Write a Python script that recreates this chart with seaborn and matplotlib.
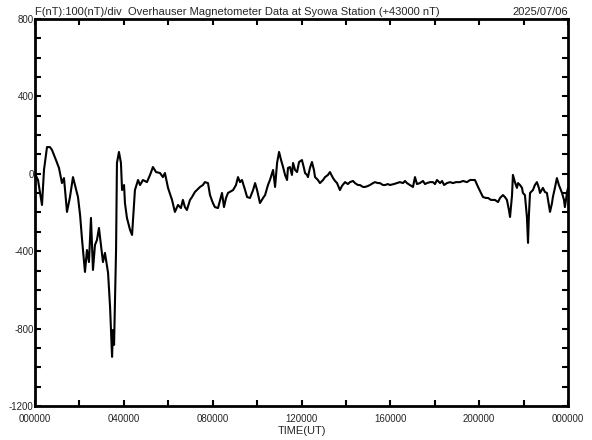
import matplotlib
matplotlib.use("Agg")
import matplotlib.pyplot as plt
from matplotlib.ticker import MultipleLocator, FixedLocator
import seaborn as sns
import pandas as pd

# Time in hours UT, field deviation in nT (relative to 43000 nT)
hours = [0, 0.135, 0.315, 0.405, 0.54, 0.675, 0.765, 0.945, 1.08, 1.215, 1.305, 1.44, 1.575, 1.71, 1.80,
         1.935, 2.03, 2.12, 2.25, 2.34, 2.43, 2.52, 2.61, 2.70, 2.79, 2.88, 2.97, 3.06, 3.15, 3.29, 3.38,
         3.47, 3.51, 3.56, 3.65, 3.69, 3.78, 3.87, 3.92, 4.01, 4.05, 4.14, 4.28, 4.37, 4.50, 4.64, 4.73,
         4.86, 5.04, 5.18, 5.31, 5.45, 5.63, 5.76, 5.85, 5.99, 6.17, 6.30, 6.44, 6.57, 6.66, 6.75, 6.84,
         6.98, 7.07, 7.20, 7.29, 7.43, 7.56, 7.65, 7.79, 7.88, 8.01, 8.10, 8.24, 8.42, 8.51, 8.60, 8.69,
         8.92, 9.05, 9.14, 9.23, 9.32, 9.46, 9.55, 9.68, 9.82, 9.91, 10.0, 10.13, 10.27, 10.36, 10.49,
         10.58, 10.72, 10.81, 10.90, 10.99, 11.08, 11.17, 11.26, 11.35, 11.39, 11.48, 11.57, 11.62, 11.71,
         11.80, 11.89, 12.02, 12.11, 12.16, 12.25, 12.29, 12.38, 12.47, 12.56, 12.61, 12.74, 12.83, 12.97,
         13.06, 13.19, 13.28, 13.37, 13.42, 13.51, 13.60, 13.73, 13.82, 13.96, 14.09, 14.18, 14.32, 14.41,
         14.54, 14.63, 14.77, 14.86, 14.99, 15.08, 15.22, 15.31, 15.44, 15.53, 15.67, 15.76, 15.89, 15.98,
         16.16, 16.30, 16.43, 16.57, 16.66, 16.75, 16.88, 17.02, 17.11, 17.20, 17.33, 17.47, 17.56, 17.65,
         17.79, 17.92, 18.01, 18.10, 18.24, 18.33, 18.42, 18.55, 18.69, 18.82, 18.96, 19.14, 19.27, 19.45,
         19.59, 19.68, 19.81, 19.95, 20.08, 20.17, 20.31, 20.40, 20.53, 20.62, 20.71, 20.85, 20.94, 21.07,
         21.16, 21.25, 21.34, 21.39, 21.48, 21.52, 21.61, 21.70, 21.75, 21.84, 21.93, 21.97, 22.06, 22.15,
         22.20, 22.24, 22.29, 22.42, 22.51, 22.60, 22.69, 22.74, 22.87, 22.96, 23.05, 23.14, 23.19, 23.28,
         23.32, 23.41, 23.50, 23.59, 23.73, 23.82, 23.86, 23.91, 23.95, 24.0]
field_nT = [0, -32, -161, 20, 138, 138, 123, 71, 30, -48, -22, -197, -120, -17, -58,
            -120, -213, -342, -507, -394, -456, -228, -497, -368, -342, -280, -368, -456, -409, -512, -688,
            -946, -807, -884, -394, 56, 113, 56, -84, -58, -151, -228, -290, -316, -84, -32, -58,
            -32, -43, -6, 35, 9, 4, -17, 4, -73, -135, -197, -161, -177, -135, -172, -187,
            -135, -120, -94, -84, -68, -58, -43, -48, -110, -151, -172, -177, -99, -172, -125, -99,
            -84, -58, -17, -43, -32, -84, -120, -125, -84, -48, -84, -151, -125, -110, -58,
            -32, 20, -68, 56, 113, 71, 35, -6, -32, 30, 35, -6, 56, 20,
            9, 61, 71, 30, 4, -6, -17, 30, 61, 20, -17, -32, -48, -32,
            -17, -6, 9, -11, -22, -37, -48, -84, -63, -43, -53, -43, -37, -48,
            -58, -58, -68, -68, -63, -58, -48, -43, -48, -48, -58, -58, -53, -58,
            -53, -48, -43, -48, -37, -48, -58, -68, -17, -53, -48, -37, -53, -48,
            -43, -43, -53, -32, -48, -37, -58, -48, -43, -48, -43, -43, -37, -43,
            -32, -32, -32, -68, -99, -120, -125, -125, -135, -135, -135, -146, -125, -110,
            -120, -135, -187, -223, -110, -6, -43, -73, -48, -58, -73, -99, -110, -223,
            -357, -213, -99, -84, -58, -43, -73, -99, -73, -94, -99, -161, -197, -151,
            -120, -73, -22, -58, -99, -135, -172, -135, -99, -73]

x_tick_hours = [0, 4, 8, 12, 16, 20, 24]
x_tick_labels = ["000000", "040000", "080000", "120000", "160000", "200000", "000000"]
y_ticks = [800, 400, 0, -400, -800, -1200]
y_tick_labels = ["800", "400", "0", "-400", "-800", "-1200"]

title_left = "F(nT):100(nT)/div  Overhauser Magnetometer Data at Syowa Station (+43000 nT)"
title_right = "2025/07/06"
x_label = "TIME(UT)"

sns.set_style("white")
plt.rcParams['font.family'] = ['Liberation Sans', 'DejaVu Sans']

df = pd.DataFrame({"hour": hours, "nT": field_nT})

fig = plt.figure(figsize=(5.92, 4.40), dpi=100)
ax = fig.add_axes([35/592, 34/440, 533/592, 387/440])
sns.lineplot(data=df, x="hour", y="nT", ax=ax, color="black", linewidth=1.5,
             sort=False, estimator=None)

ax.set_xlim(0, 24)
ax.set_ylim(-1200, 800)
ax.xaxis.set_major_locator(FixedLocator(x_tick_hours))
ax.set_xticklabels(x_tick_labels)
ax.xaxis.set_minor_locator(MultipleLocator(2))
ax.yaxis.set_major_locator(FixedLocator(y_ticks))
ax.set_yticklabels(y_tick_labels)
ax.yaxis.set_minor_locator(MultipleLocator(100))

ax.tick_params(axis="both", which="both", direction="in", top=True, right=True,
               bottom=True, left=True,
               width=1.5, color="black", labelsize=7, pad=1)
ax.tick_params(axis="both", which="major", length=4)
ax.tick_params(axis="both", which="minor", length=4)
ax.tick_params(axis="x", which="major", pad=6)

for s in ax.spines.values():
    s.set_linewidth(2)
    s.set_color("black")

ax.set_xlabel(x_label, fontsize=8, labelpad=1)
ax.set_ylabel("")
ax.text(0, 1.004, title_left, transform=ax.transAxes, fontsize=8, ha="left", va="bottom")
ax.text(1, 1.004, title_right, transform=ax.transAxes, fontsize=8, ha="right", va="bottom")

fig.savefig("out.png", dpi=100)
